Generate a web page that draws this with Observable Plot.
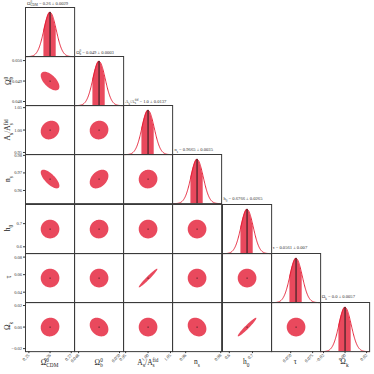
<!DOCTYPE html>
<html><head><meta charset="utf-8">
<script src="https://cdn.jsdelivr.net/npm/d3@7"></script>
<script src="https://cdn.jsdelivr.net/npm/@observablehq/plot@0.6"></script>
<style>
body{margin:0;background:#fff;}
#chart{position:relative;width:374px;height:374px;overflow:hidden;font-family:"Liberation Serif","DejaVu Serif",serif;background:#fff;-webkit-font-smoothing:antialiased;}
#chart svg{position:absolute;overflow:visible;background:transparent;}
.lab{position:absolute;white-space:nowrap;font-size:7.5px;color:#222;line-height:1;}
.lab sub,.lab span{color:#222;}
.ylab{transform:translate(-50%,-50%) rotate(-90deg);}
.xlab{transform:translate(-50%,0);}
.ttl{position:absolute;white-space:nowrap;font-size:4.6px;color:#333;line-height:1;}
.ss{display:inline-flex;flex-direction:column;vertical-align:middle;font-size:0.7em;line-height:0.95;}
</style></head><body><div id="chart"></div>
<script>
// ---- data ----
const symbols = [
  ["Ω", "0", "CDM"],
  ["Ω", "0", "b"],
  ["A<sub>s</sub>/A", "fid", "s"],
  ["n", "", "s"],
  ["h", "", "0"],
  ["τ", "", ""],
  ["Ω", "", "k"]
];
const means  = [0.26, 0.049, 1.0, 0.9665, 0.6766, 0.0561, 0.0];
const sigmas = [0.0029, 0.0003, 0.0137, 0.0035, 0.0265, 0.007, 0.0057];
const xTicks = [[0.25,0.26,0.27],[0.048,0.050],[0.95,1.00,1.05],[0.96,0.98],[0.6,0.7],[0.050,0.075],[-0.02,0,0.02]];
const yTicks = [[],[0.048,0.049,0.050],[0.95,1.00,1.05],[0.96,0.97,0.98],[0.6,0.7],[0.04,0.06,0.08],[-0.02,0,0.02]];
const xFormats = [".2f",".3f",".2f",".2f",".1f",".3f",".2f"];
const yFormats = [".2f",".3f",".2f",".2f",".1f",".2f",".2f"];
// correlation coefficients, lower triangle (row i, column j<i)
const correlations = [
  [],
  [-0.6],
  [0.15, 0.05],
  [-0.72, 0.35, 0.03],
  [0.0, 0.03, 0.0, 0.0],
  [0.0, 0.0, 0.97, 0.0, 0.0],
  [0.05, -0.25, 0.0, -0.2, 0.96, 0.0]
];

// ---- layout / style ----
const N = 7, cell = 49.14, gx = 25, gy = 7;
const fillRed = "#e9495d", lineRed = "#e3152d";
const chart = document.getElementById("chart");

function symHTML(k){
  const [base, sup, sub] = symbols[k];
  if (sup && sub) return `${base}<span class="ss"><span>${sup}</span><span>${sub}</span></span>`;
  if (sub) return `${base}<sub style="font-size:0.7em">${sub}</sub>`;
  return base;
}
function valText(v){ return Number.isInteger(v) ? v.toFixed(1) : String(v); }
function fmt(f){ const g = d3.format(f); return v => g(v).replace("-", "−"); }

for (let i = 0; i < N; i++) for (let j = 0; j <= i; j++) {
  const left = j === 0, bottom = i === N - 1;
  const mL = left ? 25 : 0, mB = bottom ? 25 : 0;
  const xDom = [means[j] - 4*sigmas[j], means[j] + 4*sigmas[j]];
  const marks = [];
  let yScale;
  if (i === j) {
    const m = means[i], s = sigmas[i];
    const curve = d3.range(-80, 81).map(n => ({x: m + (n/20)*s, y: Math.exp(-(n/20)*(n/20)/2), n}));
    const band = curve.filter(d => Math.abs(d.n) <= 20);
    marks.push(Plot.areaY(band, {x: "x", y: "y", fill: fillRed}));
    marks.push(Plot.line(curve, {x: "x", y: "y", stroke: lineRed, strokeWidth: 0.9}));
    marks.push(Plot.ruleX([m], {y1: 0, y2: 1, stroke: "#1a1a1a", strokeWidth: 1}));
    yScale = {domain: [0, 1.11], axis: null};
  } else {
    const mx = means[j], sx = sigmas[j], my = means[i], sy = sigmas[i];
    const r = correlations[i][j], k = 1.52, q = Math.sqrt(1 - r*r);
    const pts = d3.range(0, 120).map(n => {
      const t = n * Math.PI / 60;
      return {x: mx + k*sx*Math.cos(t), y: my + k*sy*(r*Math.cos(t) + q*Math.sin(t))};
    });
    marks.push(Plot.line(pts, {x: "x", y: "y", fill: fillRed, stroke: "none", curve: "linear-closed"}));
    marks.push(Plot.dot([{x: mx, y: my}], {x: "x", y: "y", r: 0.6, fill: "#1a1a1a"}));
    yScale = {domain: [means[i] - 4*sigmas[i], means[i] + 4*sigmas[i]],
      axis: left ? "left" : null, ticks: yTicks[i], tickFormat: fmt(yFormats[i]),
      tickSize: 2, tickPadding: 1.5, label: null};
  }
  marks.push(Plot.frame({stroke: "#3a3a3a", strokeWidth: 1}));
  const svg = Plot.plot({
    width: cell + mL, height: cell + mB,
    marginLeft: mL, marginBottom: mB, marginTop: 0, marginRight: 0,
    style: {fontFamily: "Liberation Serif, DejaVu Serif, serif", fontSize: "4.5px", background: "transparent", overflow: "visible", color: "#333"},
    x: {domain: xDom, axis: bottom ? "bottom" : null, ticks: xTicks[j], tickFormat: fmt(xFormats[j]),
        tickRotate: -45, tickSize: 2, tickPadding: 1, label: null},
    y: yScale,
    marks
  });
  svg.style.left = (gx + j*cell - mL) + "px";
  svg.style.top = (gy + i*cell) + "px";
  chart.appendChild(svg);
}

// titles above diagonal panels
for (let k = 0; k < N; k++) {
  const d = document.createElement("div");
  d.className = "ttl";
  d.innerHTML = `${symHTML(k)} = ${valText(means[k])} ± ${sigmas[k]}`;
  d.style.left = (gx + k*cell + 2) + "px";
  d.style.top = (gy + k*cell - 6.5) + "px";
  chart.appendChild(d);
}
// axis labels
for (let k = 0; k < N; k++) {
  const xl = document.createElement("div");
  xl.className = "lab xlab";
  xl.innerHTML = symHTML(k);
  xl.style.left = (gx + k*cell + cell/2) + "px";
  xl.style.top = "358px";
  chart.appendChild(xl);
  if (k > 0) {
    const yl = document.createElement("div");
    yl.className = "lab ylab";
    yl.innerHTML = symHTML(k);
    yl.style.left = "9px";
    yl.style.top = (gy + k*cell + cell/2) + "px";
    chart.appendChild(yl);
  }
}
</script></body></html>
